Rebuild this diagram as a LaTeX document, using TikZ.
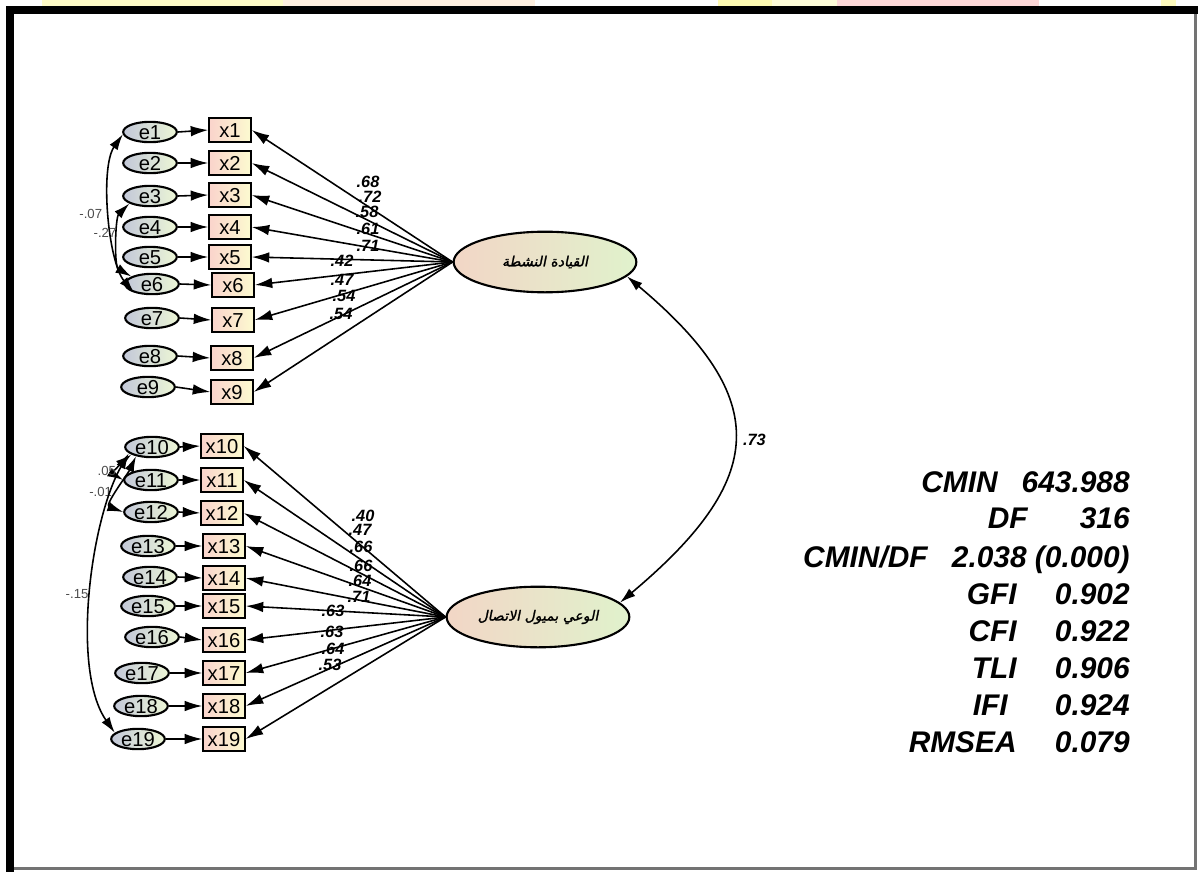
\documentclass[tikz,border=0pt]{standalone}
\usepackage{fontspec}
\setmainfont{Liberation Sans}
\newfontfamily\arabicfont[Script=Arabic,FakeSlant=0.2,FakeBold=1.5]{DejaVu Sans}
\TeXXeTstate=1
\usetikzlibrary{shapes.geometric,arrows.meta}
\definecolor{errL}{RGB}{195,200,216}
\definecolor{errR}{RGB}{236,246,214}
\definecolor{obsL}{RGB}{250,212,204}
\definecolor{obsR}{RGB}{252,250,208}
\definecolor{latL}{RGB}{242,214,198}
\definecolor{latR}{RGB}{224,242,204}

\begin{document}
\begin{tikzpicture}[x=0.02cm, y=0.02cm,
    err/.style={ellipse, draw, line width=1.2pt, left color=errL, right color=errR, minimum width=30.5pt, minimum height=11.5pt, inner sep=0pt, font=\fontsize{11.5}{11.5}\selectfont, text height=8.2pt, text depth=0pt},
    obs/.style={rectangle, draw, line width=1.2pt, left color=obsL, right color=obsR, minimum width=23.5pt, minimum height=13.5pt, inner sep=0pt, font=\fontsize{11.5}{11.5}\selectfont, text height=8.2pt, text depth=0pt},
    lat/.style={ellipse, draw, line width=1.2pt, left color=latL, right color=latR, minimum width=104pt, minimum height=34.5pt, inner sep=0pt, font=\arabicfont\fontsize{8}{8}\selectfont},
    load/.style={-{Latex[length=10pt, width=6pt]}, line width=0.9pt},
    cov/.style={{Latex[length=9pt, width=5.5pt]}-{Latex[length=9pt, width=5.5pt]}, line width=0.9pt},
    est/.style={font=\bfseries\itshape\fontsize{9.3}{9.3}\selectfont, inner sep=0pt},
    covlbl/.style={font=\fontsize{7.5}{7.5}\selectfont, text=black!70, inner sep=1pt},
    gof/.style={font=\bfseries\itshape\fontsize{17}{17}\selectfont, inner sep=0pt}
]
\useasboundingbox (0,0) rectangle (1198,-872);

% strip and frame
\fill[yellow!22] (42,0) rectangle (283,-6);
\fill[orange!12] (283,0) rectangle (535,-6);
\fill[yellow!30] (718,0) rectangle (772,-6);
\fill[yellow!15] (772,0) rectangle (837,-6);
\fill[red!15] (837,0) rectangle (1039,-6);
\fill[yellow!25] (1161,0) rectangle (1176,-6);
\fill[black] (6,-6) rectangle (1198,-14);
\fill[black] (6,-6) rectangle (14,-872);
\draw[black!55, line width=1.2pt] (1195.5,-14) -- (1195.5,-868.5) -- (14,-868.5);

% Errors and indicators, first factor
\foreach \i/\ex/\ey/\xx/\xy in {1/150/132/230/130, 2/150/163/230/163, 3/150/196/230/195,
    4/150/227/230/227, 5/150/257/230/257, 6/152/284/233/285, 7/152/318/233/320,
    8/150/356/232/358, 9/148/387/232/392} {
  \node[err] (e\i) at (\ex,-\ey) {e\i};
  \node[obs] (x\i) at (\xx,-\xy) {x\i};
  \draw[load] (e\i.east) -- (x\i.west);
}

% Errors and indicators, second factor
\foreach \i/\ex/\ey/\xx/\xy in {10/152/447/222/446, 11/151/480/222/480, 12/151/512/222/513,
    13/148/546/224/546, 14/150/577/224/578, 15/148/606/224/606, 16/152/637/224/640,
    17/142/673/224/673, 18/141/706/224/706, 19/138/739/224/739} {
  \node[err] (e\i) at (\ex,-\ey) {e\i};
  \node[obs] (x\i) at (\xx,-\xy) {x\i};
  \draw[load] (e\i.east) -- (x\i.west);
}

% Latent factors
\node[lat] (lat1) at (545,-262) {\beginR القيادة النشطة\endR};
\node[lat] (lat2) at (538,-617) {\beginR الوعي بميول الاتصال\endR};

% Loadings
\foreach \i/\v/\lx/\ly in {1/.68/368/182, 2/.72/370/197, 3/.58/367/212, 4/.61/368/229,
    5/.71/368/246, 6/.42/342/261, 7/.47/342/280, 8/.54/344/296, 9/.54/341/314} {
  \draw[load] (lat1.west) -- (x\i.east);
  \node[est] (l\i) at (\lx,-\ly) {\v};
}
\foreach \i/\v/\lx/\ly in {10/.40/363/516, 11/.47/360/530, 12/.66/361/547, 13/.66/361/566,
    14/.64/360/581, 15/.71/359/597, 16/.63/333/611, 17/.63/332/632, 18/.64/333/649, 19/.53/330/665} {
  \draw[load] (lat2.west) -- (x\i.east);
  \node[est] (l\i) at (\lx,-\ly) {\v};
}

% Covariances
\draw[cov] (e1.185) to[out=235, in=130, looseness=0.65] node[covlbl, left, xshift=-3pt] {-.07} (e6.205);
\draw[cov] (e3.200) to[out=225, in=150, looseness=0.7] node[covlbl, left, pos=0.4] {-.27} (e6.160);
\draw[cov] (e10.200) to[out=220, in=150, looseness=1.2] node[covlbl, left, pos=0.6] {.05} (e11.west);
\draw[cov] (e10.210) to[out=245, in=160, looseness=0.9] node[covlbl, left, pos=0.55, xshift=-2pt] {-.01} (e12.west);
\draw[cov] (e10.195) to[out=240, in=125, looseness=0.7] node[covlbl, left] {-.15} (e19.165);
\draw[cov] (lat1.-10) to[out=-40, in=40, looseness=1.5] node[est, right=5pt] {.73} (lat2.10);

% Fit indices
\foreach \n/\lab/\lx/\val/\y in {1/CMIN/998/643.988/492, 2/DF/1028/316/528, 3/CMIN\slash DF/928/2.038 (0.000)/567,
    4/GFI/1017/0.902/604, 5/CFI/1017/0.922/641, 6/TLI/1017/0.906/678, 7/IFI/1008/0.924/715, 8/RMSEA/1017/0.079/752} {
  \node[gof, anchor=base east] (g\n) at (\lx,-\y) {\lab};
  \node[gof, anchor=base east] (v\n) at (1130,-\y) {\val};
}
\end{tikzpicture}
\end{document}
